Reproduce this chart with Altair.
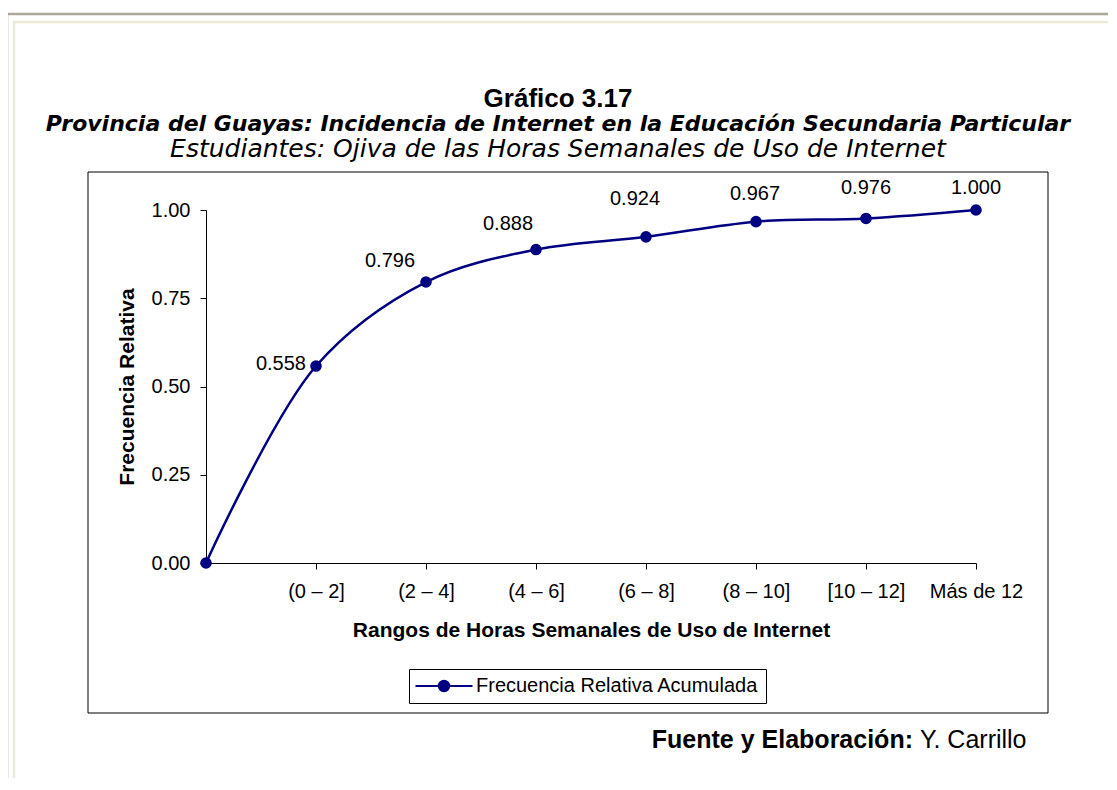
import altair as alt
import pandas as pd

categories = ["", "(0 – 2]", "(2 – 4]", "(4 – 6]", "(6 – 8]", "(8 – 10]", "[10 – 12]", "Más de 12"]
values = [0.0, 0.558, 0.796, 0.888, 0.924, 0.967, 0.976, 1.000]
labels = ["", "0.558", "0.796", "0.888", "0.924", "0.967", "0.976", "1.000"]
series_name = "Frecuencia Relativa Acumulada"
y_ticks = [0, 0.25, 0.5, 0.75, 1.0]

df = pd.DataFrame({"cat": categories, "val": values, "lab": labels, "serie": series_name})

FONT = "Liberation Sans"
WIDE = "DejaVu Sans"
NAVY = "#000080"
W, H = 770, 353

x_enc = alt.X("cat:N", sort=categories, scale=alt.Scale(type="point", padding=0),
              axis=alt.Axis(title="Rangos de Horas Semanales de Uso de Internet",
                            values=categories[1:], labelAngle=0, tickSize=6,
                            labelPadding=12, titlePadding=18, grid=False))
y_enc = alt.Y("val:Q", scale=alt.Scale(domain=[0, 1], nice=False),
              axis=alt.Axis(title="Frecuencia Relativa", values=y_ticks, format=".2f",
                            tickSize=6, labelPadding=10, titlePadding=14, grid=False))

sym_path = "M-4,0L4,0M-0.72,0A0.72,0.72,0,1,1,0.72,0A0.72,0.72,0,1,1,-0.72,0Z"

line = alt.Chart(df).mark_line(interpolate="catmull-rom", strokeWidth=2.5).encode(
    x=x_enc, y=y_enc,
    color=alt.Color("serie:N", scale=alt.Scale(range=[NAVY]),
                    legend=alt.Legend(title=None, orient="none", legendX=203, legendY=459,
                                      symbolType=sym_path, symbolSize=203,
                                      symbolStrokeWidth=2.2, symbolFillColor=NAVY,
                                      symbolStrokeColor=NAVY, symbolOffset=18, labelOffset=22,
                                      labelFontSize=20, labelFont=FONT, labelColor="black",
                                      labelLimit=500, strokeColor="black", padding=7))
)
pts = alt.Chart(df).mark_point(filled=True, size=135, color=NAVY, opacity=1).encode(x=x_enc, y=y_enc)

# label placement (style, in code): name -> (align, dx, dy)
label_style = {
    "0.558": ("right", -10, -2),
    "0.796": ("center", -36, -21),
    "0.888": ("center", -28, -26),
    "0.924": ("center", -11, -38),
    "0.967": ("center", -1, -28),
    "0.976": ("center", 0, -30),
    "1.000": ("center", 0, -22),
}
text_layers = []
for lab, (al, dx, dy) in label_style.items():
    text_layers.append(
        alt.Chart(df).transform_filter(alt.datum.lab == lab).mark_text(
            align=al, baseline="middle", dx=dx, dy=dy, font=FONT, fontSize=20, color="black"
        ).encode(x=x_enc, y=y_enc, text="lab:N")
    )

one = alt.Data(values=[{"a": 1}])
def rule(x, x2, y, y2, color, w):
    return alt.Chart(one).mark_rule(color=color, strokeWidth=w).encode(
        x=alt.value(x), x2=alt.value(x2), y=alt.value(y), y2=alt.value(y2))

frame = [
    rule(-200, 920, -196, -196, "#ACA899", 2.5),
    rule(-199, -199, -197, 600, "#ACA899", 2.5),
    rule(-193, 920, -188, -188, "#ECE9D8", 2.5),
    rule(-192, -192, -189, 600, "#ECE9D8", 2.5),
]
box = alt.Chart(one).mark_rect(fill="white", fillOpacity=0, stroke="black", strokeWidth=1).encode(
    x=alt.value(-118), x2=alt.value(842), y=alt.value(-38), y2=alt.value(503))

def txt(s, x, y, size, weight="normal", style="normal", align="center", font=FONT):
    return alt.Chart(one).mark_text(text=s, font=font, fontSize=size, fontWeight=weight,
                                    fontStyle=style, align=align, baseline="middle",
                                    color="black").encode(x=alt.value(x), y=alt.value(y))

titles = [
    txt("Gráfico 3.17", 352, -111, 26, "bold"),
    txt("Provincia del Guayas: Incidencia de Internet en la Educación Secundaria Particular", 352, -86, 22, "bold", "italic", font=WIDE),
    txt("Estudiantes: Ojiva de las Horas Semanales de Uso de Internet", 352, -61, 25, "normal", "italic", font=WIDE),
    txt("Fuente y Elaboración:", 707, 530, 25, "bold", align="right"),
    txt("Y. Carrillo", 714, 530, 25, align="left"),
]

chart = alt.layer(*frame, box, line, pts, *text_layers, *titles).properties(
    width=W, height=H,
    background="white",
    autosize=alt.AutoSizeParams(type="none"),
    padding={"left": 198, "top": 202, "right": 132, "bottom": 215},
).configure_view(strokeWidth=0).configure_axis(
    labelFont=FONT, labelFontSize=20, labelColor="black",
    titleFont=FONT, titleFontSize=21, titleFontWeight="bold", titleColor="black",
    domainColor="black", tickColor="black", domainWidth=1, tickWidth=1
)

chart.save("out.html", embed_options={"renderer": "svg", "actions": False})
